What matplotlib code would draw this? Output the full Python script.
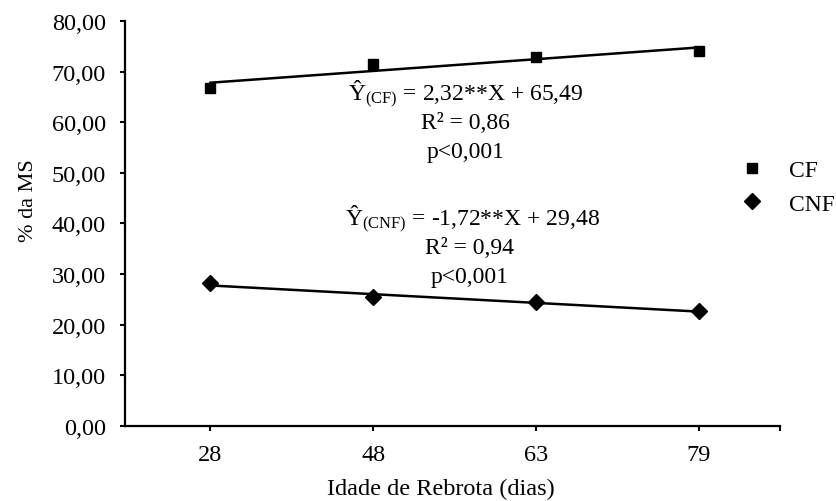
import numpy as np
import matplotlib
matplotlib.use("Agg")
import matplotlib.pyplot as plt

plt.rcParams['font.family'] = ['Liberation Serif', 'DejaVu Serif']
plt.rcParams['mathtext.fontset'] = 'custom'
plt.rcParams['mathtext.rm'] = 'Liberation Serif'
plt.rcParams['mathtext.it'] = 'Liberation Serif:italic'

# dados
idade = ["28", "48", "63", "79"]
cf = [66.7, 71.6, 72.9, 74.0]
cnf = [28.3, 25.4, 24.5, 22.7]
cf_coef = [2.32, 65.49]
cnf_coef = [-1.72, 29.48]
y_ticks = [0, 10, 20, 30, 40, 50, 60, 70, 80]

fig = plt.figure(figsize=(8.37, 5.02), dpi=100)
ax = fig.add_axes([0.1493, 0.1494, 0.7826, 0.8068])

x = np.arange(1, len(idade) + 1)
ax.plot(x, cf, 's', color='black', markersize=7, label='CF', zorder=3)
ax.plot(x, cnf, 'D', color='black', markersize=8.5, label='CNF', zorder=3)
ax.plot(x, cf_coef[0] * x + cf_coef[1], '-', color='black', lw=1.8)
ax.plot(x, cnf_coef[0] * x + cnf_coef[1], '-', color='black', lw=1.8)

ax.set_xlim(0.475, 4.5)
ax.set_ylim(0, 80)
ax.set_xticks([1, 2, 3, 4, 4.5])
ax.set_xticklabels(idade + [""])
ax.set_yticks(y_ticks)
ax.set_yticklabels(["%d,00" % v for v in y_ticks])
ax.tick_params(axis='both', labelsize=17.5, direction='out', length=3.6, width=1.5)
ax.tick_params(axis='x', pad=9)
ax.tick_params(axis='y', pad=10)
for s in ['top', 'right']:
    ax.spines[s].set_visible(False)
for s in ['left', 'bottom']:
    ax.spines[s].set_linewidth(1.6)

ax.set_xlabel("Idade de Rebrota (dias)", fontsize=17.5)
ax.xaxis.set_label_coords(0.483, -0.128)
ax.set_ylabel("% da MS", fontsize=16)
ax.yaxis.set_label_coords(-0.133, 0.56)

fs = 17
ax.text(2.57, 64.3, "Ŷ$_{\\mathrm{(CF)}}$ = 2,32**X + 65,49", fontsize=fs, ha='center', va='baseline')
ax.text(2.57, 58.9, "R² = 0,86", fontsize=fs, ha='center', va='baseline')
ax.text(2.57, 53.1, "p<0,001", fontsize=fs, ha='center', va='baseline')
ax.text(2.61, 39.7, "Ŷ$_{\\mathrm{(CNF)}}$ = -1,72**X + 29,48", fontsize=fs, ha='center', va='baseline')
ax.text(2.59, 34.2, "R² = 0,94", fontsize=fs, ha='center', va='baseline')
ax.text(2.59, 28.4, "p<0,001", fontsize=fs, ha='center', va='baseline')

fig.legend(loc='center left', bbox_to_anchor=(0.884, 0.625), frameon=False,
           fontsize=17, handletextpad=1.1, labelspacing=0.5, handlelength=1.0,
           borderaxespad=0, borderpad=0)

fig.savefig("out.png", dpi=100)
